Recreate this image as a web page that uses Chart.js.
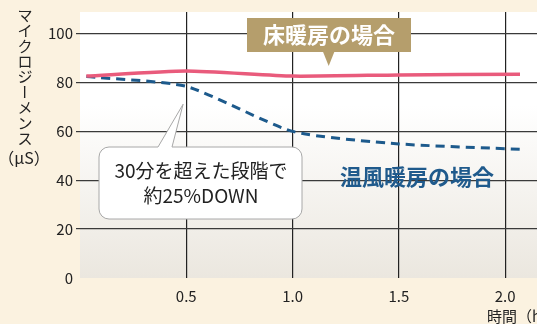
<!DOCTYPE html>
<html lang="ja">
<head>
<meta charset="UTF-8">
<title>マイクロジーメンスの変化</title>
<script src="https://cdn.jsdelivr.net/npm/chart.js"></script>
<style>
  body { margin: 0; background: #fbf2e0; }
  #wrap { position: relative; width: 537px; height: 324px; }
</style>
</head>
<body>
<div id="wrap"><canvas id="myChart" width="537" height="324"></canvas></div>
<script>
// データ
const times = [0.03, 0.5, 1.0, 1.5, 2.07];
const floorHeating = [82.5, 84.6, 82.5, 83.0, 83.3];
const warmAir = [82.3, 78.3, 59.9, 54.8, 52.6];
const yTicks = [0, 20, 40, 60, 80, 100];
const xTicks = [0.5, 1.0, 1.5, 2.0];

const yTitle = 'マイクロジーメンス';
const yUnit = '（μS）';
const xTitle = '時間（h）';
const floorLabel = '床暖房の場合';
const airLabel = '温風暖房の場合';
const noteLines = ['30分を超えた段階で', '約25%DOWN'];

const JP = '"Noto Sans CJK JP", "Noto Sans", sans-serif';

// プロット背景のグラデーション
const plotBg = {
  id: 'plotBg',
  beforeDraw(chart) {
    const { ctx, chartArea: a } = chart;
    const g = ctx.createLinearGradient(0, a.top, 0, a.bottom);
    g.addColorStop(0, '#ffffff');
    g.addColorStop(0.35, '#ffffff');
    g.addColorStop(1, '#ebe7df');
    ctx.save();
    ctx.fillStyle = g;
    ctx.fillRect(a.left, a.top, a.right - a.left, a.bottom - a.top);
    ctx.restore();
  }
};

// 軸タイトルと注記
const notes = {
  id: 'notes',
  afterDatasetsDraw(chart) {
    const { ctx, scales: { x, y } } = chart;
    ctx.save();

    // 縦書きのY軸タイトル
    ctx.fillStyle = '#222';
    ctx.font = '15px ' + JP;
    ctx.textAlign = 'center';
    ctx.textBaseline = 'middle';
    [...yTitle].forEach((ch, i) => {
      const cy = 15 + i * 15.4;
      if (ch === 'ー') {
        ctx.save();
        ctx.translate(25, cy);
        ctx.rotate(Math.PI / 2);
        ctx.fillText(ch, 0, 0);
        ctx.restore();
      } else {
        ctx.fillText(ch, 25, cy);
      }
    });
    ctx.font = '16px ' + JP;
    ctx.fillText(yUnit, 24, 158);

    // X軸タイトル
    ctx.textAlign = 'left';
    ctx.font = '15px ' + JP;
    ctx.fillText(xTitle, 487, 316);

    // 床暖房ラベル
    const tipX = x.getPixelForValue(1.17);
    ctx.fillStyle = '#b59e6c';
    ctx.fillRect(247, 18, 164, 34);
    ctx.beginPath();
    ctx.moveTo(tipX - 6, 51);
    ctx.lineTo(tipX + 6, 51);
    ctx.lineTo(tipX, 66);
    ctx.closePath();
    ctx.fill();
    ctx.fillStyle = '#ffffff';
    ctx.font = 'bold 22px ' + JP;
    ctx.textAlign = 'center';
    ctx.fillText(floorLabel, 329, 35);

    // 吹き出し
    const bx = 99, by = 147, bw = 203, bh = 72, r = 10;
    const px = x.getPixelForValue(0.485), py = y.getPixelForValue(71);
    ctx.beginPath();
    ctx.moveTo(bx + r, by);
    ctx.lineTo(158, by);
    ctx.lineTo(px, py);
    ctx.lineTo(172, by);
    ctx.lineTo(bx + bw - r, by);
    ctx.arcTo(bx + bw, by, bx + bw, by + r, r);
    ctx.lineTo(bx + bw, by + bh - r);
    ctx.arcTo(bx + bw, by + bh, bx + bw - r, by + bh, r);
    ctx.lineTo(bx + r, by + bh);
    ctx.arcTo(bx, by + bh, bx, by + bh - r, r);
    ctx.lineTo(bx, by + r);
    ctx.arcTo(bx, by, bx + r, by, r);
    ctx.closePath();
    ctx.fillStyle = '#ffffff';
    ctx.fill();
    ctx.strokeStyle = '#a8a8a8';
    ctx.lineWidth = 1;
    ctx.stroke();
    ctx.fillStyle = '#222';
    ctx.font = '19px ' + JP;
    ctx.fillText(noteLines[0], 201, 171);
    ctx.fillText(noteLines[1], 201, 196);

    // 温風暖房ラベル
    ctx.fillStyle = '#1f5a8c';
    ctx.font = 'bold 22px ' + JP;
    ctx.fillText(airLabel, 417, 177);

    ctx.restore();
  }
};

const ctx = document.getElementById('myChart').getContext('2d');

new Chart(ctx, {
  type: 'line',
  data: {
    datasets: [
      {
        label: floorLabel,
        data: times.map((t, i) => ({ x: t, y: floorHeating[i] })),
        borderColor: '#e95b7c',
        borderWidth: 3.5,
        pointRadius: 0,
        tension: 0.2,
        fill: false
      },
      {
        label: airLabel,
        data: times.map((t, i) => ({ x: t, y: warmAir[i] })),
        borderColor: '#1d5a8c',
        borderWidth: 3,
        borderDash: [9, 6],
        pointRadius: 0,
        tension: 0.2,
        fill: false
      }
    ]
  },
  options: {
    responsive: false,
    animation: false,
    layout: { padding: { top: 8, right: 0, left: 0, bottom: 0 } },
    plugins: { legend: { display: false }, tooltip: { enabled: false } },
    scales: {
      x: {
        type: 'linear',
        min: 0,
        max: 2.15,
        afterBuildTicks: s => { s.ticks = xTicks.map(v => ({ value: v })); },
        afterFit: s => { s.height = 46; },
        grid: { color: '#222', lineWidth: 1.2, drawTicks: false },
        border: { display: false },
        ticks: {
          font: { family: JP, size: 15 },
          color: '#222',
          padding: 9,
          maxRotation: 0,
          callback: v => v.toFixed(1)
        }
      },
      y: {
        min: 0,
        max: 108.7,
        afterBuildTicks: s => { s.ticks = yTicks.map(v => ({ value: v })); },
        afterFit: s => { s.width = 80; },
        grid: {
          color: c => (c.tick && c.tick.value === 0) ? 'rgba(0,0,0,0)' : '#3a3a3a',
          lineWidth: 1.2,
          tickLength: 4
        },
        border: { display: false },
        ticks: { font: { family: JP, size: 15 }, color: '#222', padding: 3 }
      }
    }
  },
  plugins: [plotBg, notes]
});
</script>
</body>
</html>
